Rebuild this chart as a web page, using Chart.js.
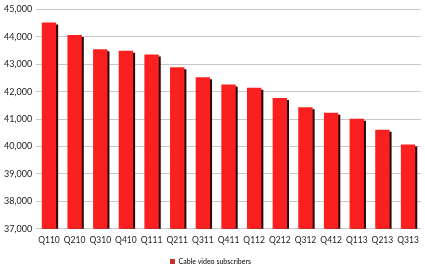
<!DOCTYPE html>
<html>
<head>
<meta charset="utf-8">
<script src="https://cdn.jsdelivr.net/npm/chart.js@4/dist/chart.umd.min.js"></script>
<style>
  html, body { margin: 0; padding: 0; background: #fff; }
  #wrap { width: 425px; height: 269px; }
</style>
</head>
<body>
<div id="wrap"><canvas id="subs-chart" width="425" height="269"></canvas></div>
<script>
'use strict';

// Quarters and subscriber counts (thousands)
var quarters = ['Q110', 'Q210', 'Q310', 'Q410', 'Q111', 'Q211', 'Q311', 'Q411',
  'Q112', 'Q212', 'Q312', 'Q412', 'Q113', 'Q213', 'Q313'];
var subscribers = [44520, 44070, 43550, 43490, 43360, 42890, 42530, 42260,
  42140, 41770, 41430, 41230, 41015, 40610, 40070];
var yTicks = [37000, 38000, 39000, 40000, 41000, 42000, 43000, 44000, 45000];

// Dark drop shadow behind each bar
var barShadow = {
  id: 'barShadow',
  beforeDatasetDraw: function (chart) {
    var ctx = chart.ctx;
    ctx.save();
    ctx.shadowColor = '#2b0606';
    ctx.shadowOffsetX = 2;
    ctx.shadowOffsetY = 2;
    ctx.shadowBlur = 0;
  },
  afterDatasetDraw: function (chart) {
    chart.ctx.restore();
  }
};

var ctx = document.getElementById('subs-chart').getContext('2d');

var subsChart = new Chart(ctx, {
  type: 'bar',
  data: {
    labels: quarters,
    datasets: [{
      label: 'Cable video subscribers',
      data: subscribers,
      backgroundColor: '#fb2020',
      borderWidth: 0,
      barPercentage: 0.56,
      categoryPercentage: 1
    }]
  },
  options: {
    responsive: false,
    animation: false,
    layout: { padding: { top: 4, right: 4, left: 0, bottom: -6 } },
    plugins: {
      legend: {
        position: 'bottom',
        labels: {
          boxWidth: 5,
          boxHeight: 5,
          padding: 1,
          color: '#333',
          font: { family: 'Lato', size: 7 },
          generateLabels: function (chart) {
            return [{
              text: 'Cable video subscribers',
              fillStyle: '#c8302a',
              strokeStyle: '#c8302a',
              lineWidth: 0,
              datasetIndex: 0
            }];
          }
        }
      },
      tooltip: { enabled: false }
    },
    scales: {
      x: {
        grid: { display: false, drawTicks: false },
        border: { display: false },
        afterFit: function (axis) { axis.height += 6; },
        ticks: {
          color: '#222',
          font: { family: 'Lato', size: 8.5 },
          maxRotation: 0,
          autoSkip: false,
          padding: 6
        }
      },
      y: {
        min: 37000,
        max: 45000,
        afterBuildTicks: function (axis) {
          axis.ticks = yTicks.map(function (v) { return { value: v }; });
        },
        grid: { color: '#c8c8c8', drawTicks: false },
        border: { display: false },
        ticks: {
          color: '#222',
          font: { family: 'Lato', size: 9 },
          padding: 4,
          callback: function (v) { return v.toLocaleString('en-US'); }
        }
      }
    }
  },
  plugins: [barShadow]
});
</script>
</body>
</html>
